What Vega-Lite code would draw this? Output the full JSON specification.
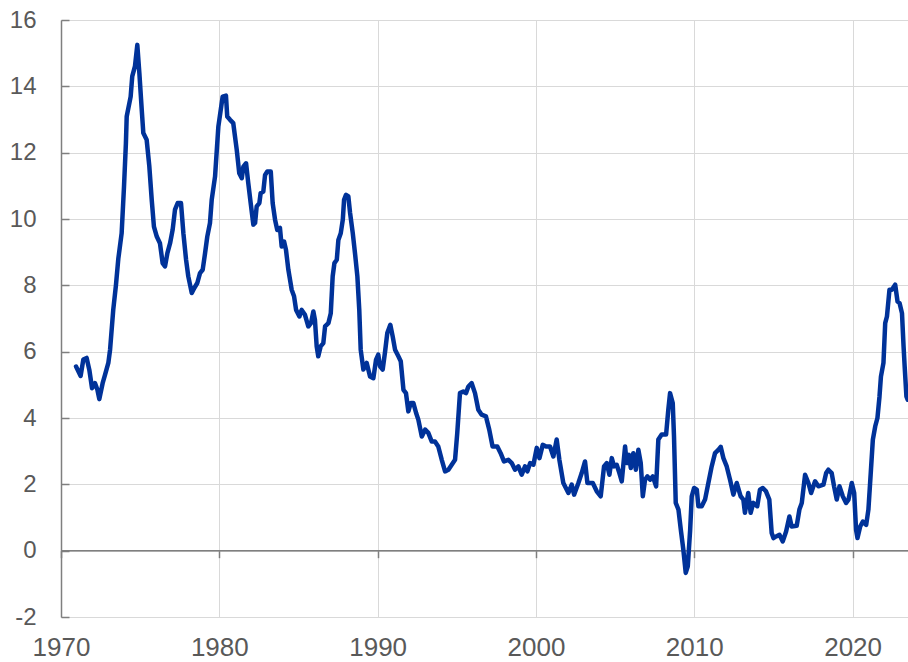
{
  "$schema": "https://vega.github.io/schema/vega-lite/v6.json",
  "width": 847,
  "height": 597,
  "autosize": "none",
  "padding": {"left": 61, "top": 20, "right": 0, "bottom": 45},
  "config": {"view": {"stroke": null}, "font": "Liberation Sans"},
  "layer": [
    {
      "data": {"values": [{"year": 1970, "value": 0}, {"year": 2023.5, "value": 0}]},
      "mark": {"type": "line", "color": "#7f7f7f", "strokeWidth": 1.5},
      "encoding": {
        "x": {"field": "year", "type": "quantitative",
          "axis": {"orient": "bottom", "offset": -66.33, "values": [1970, 1980, 1990, 2000, 2010, 2020], "labels": false, "domain": false, "ticks": true, "tickSize": 7, "tickColor": "#7f7f7f", "tickWidth": 1.5, "grid": false, "title": null}},
        "y": {"field": "value", "type": "quantitative"}
      }
    },
    {
      "data": {"values": [
        {"year": 1970.95, "value": 5.55}, {"year": 1971.24, "value": 5.27}, {"year": 1971.41, "value": 5.76}, {"year": 1971.62, "value": 5.81}, {"year": 1971.79, "value": 5.45}, {"year": 1971.96, "value": 4.9}, {"year": 1972.15, "value": 5.05}, {"year": 1972.3, "value": 4.85}, {"year": 1972.42, "value": 4.57}, {"year": 1972.63, "value": 5.05}, {"year": 1972.78, "value": 5.3}, {"year": 1972.99, "value": 5.66}, {"year": 1973.1, "value": 6.06}, {"year": 1973.3, "value": 7.26}, {"year": 1973.47, "value": 8.0}, {"year": 1973.62, "value": 8.8}, {"year": 1973.83, "value": 9.57}, {"year": 1973.98, "value": 10.98}, {"year": 1974.1, "value": 12.29}, {"year": 1974.15, "value": 13.09}, {"year": 1974.4, "value": 13.69}, {"year": 1974.5, "value": 14.3}, {"year": 1974.67, "value": 14.6}, {"year": 1974.82, "value": 15.25}, {"year": 1974.95, "value": 14.4},
        {"year": 1975.1, "value": 13.29}, {"year": 1975.2, "value": 12.59}, {"year": 1975.41, "value": 12.39}, {"year": 1975.58, "value": 11.58}, {"year": 1975.73, "value": 10.58}, {"year": 1975.87, "value": 9.77}, {"year": 1976.05, "value": 9.47}, {"year": 1976.25, "value": 9.27}, {"year": 1976.42, "value": 8.67}, {"year": 1976.57, "value": 8.57}, {"year": 1976.72, "value": 8.97}, {"year": 1976.89, "value": 9.27}, {"year": 1977.05, "value": 9.67}, {"year": 1977.2, "value": 10.28}, {"year": 1977.37, "value": 10.48}, {"year": 1977.58, "value": 10.48}, {"year": 1977.73, "value": 9.57}, {"year": 1977.9, "value": 8.77}, {"year": 1978.04, "value": 8.27}, {"year": 1978.26, "value": 7.77}, {"year": 1978.42, "value": 7.92}, {"year": 1978.61, "value": 8.07}, {"year": 1978.78, "value": 8.37}, {"year": 1978.95, "value": 8.47}, {"year": 1979.1, "value": 8.97}, {"year": 1979.24, "value": 9.47}, {"year": 1979.41, "value": 9.88}, {"year": 1979.52, "value": 10.58}, {"year": 1979.73, "value": 11.28}, {"year": 1979.94, "value": 12.79},
        {"year": 1980.21, "value": 13.69}, {"year": 1980.42, "value": 13.72}, {"year": 1980.5, "value": 13.09}, {"year": 1980.68, "value": 12.99}, {"year": 1980.88, "value": 12.89}, {"year": 1981.1, "value": 12.09}, {"year": 1981.26, "value": 11.38}, {"year": 1981.42, "value": 11.23}, {"year": 1981.52, "value": 11.58}, {"year": 1981.69, "value": 11.68}, {"year": 1981.83, "value": 11.08}, {"year": 1981.98, "value": 10.48}, {"year": 1982.15, "value": 9.83}, {"year": 1982.26, "value": 9.88}, {"year": 1982.36, "value": 10.38}, {"year": 1982.53, "value": 10.48}, {"year": 1982.61, "value": 10.78}, {"year": 1982.78, "value": 10.83}, {"year": 1982.89, "value": 11.33}, {"year": 1983.03, "value": 11.43}, {"year": 1983.25, "value": 11.43}, {"year": 1983.37, "value": 10.48}, {"year": 1983.52, "value": 9.98}, {"year": 1983.66, "value": 9.67}, {"year": 1983.83, "value": 9.73}, {"year": 1983.94, "value": 9.17}, {"year": 1984.09, "value": 9.32}, {"year": 1984.21, "value": 9.07}, {"year": 1984.36, "value": 8.47}, {"year": 1984.57, "value": 7.87}, {"year": 1984.72, "value": 7.67}, {"year": 1984.85, "value": 7.26},
        {"year": 1985.06, "value": 7.06}, {"year": 1985.2, "value": 7.26}, {"year": 1985.41, "value": 7.11}, {"year": 1985.62, "value": 6.76}, {"year": 1985.79, "value": 6.86}, {"year": 1985.94, "value": 7.21}, {"year": 1986.04, "value": 6.96}, {"year": 1986.15, "value": 6.16}, {"year": 1986.25, "value": 5.86}, {"year": 1986.4, "value": 6.16}, {"year": 1986.57, "value": 6.26}, {"year": 1986.68, "value": 6.76}, {"year": 1986.89, "value": 6.86}, {"year": 1987.04, "value": 7.16}, {"year": 1987.16, "value": 8.27}, {"year": 1987.27, "value": 8.67}, {"year": 1987.42, "value": 8.77}, {"year": 1987.52, "value": 9.37}, {"year": 1987.67, "value": 9.57}, {"year": 1987.8, "value": 9.98}, {"year": 1987.88, "value": 10.58}, {"year": 1988.0, "value": 10.73}, {"year": 1988.15, "value": 10.68}, {"year": 1988.26, "value": 10.18}, {"year": 1988.43, "value": 9.57}, {"year": 1988.57, "value": 8.97}, {"year": 1988.72, "value": 8.27}, {"year": 1988.84, "value": 7.26}, {"year": 1988.93, "value": 6.06}, {"year": 1989.1, "value": 5.46}, {"year": 1989.31, "value": 5.66}, {"year": 1989.52, "value": 5.25}, {"year": 1989.73, "value": 5.2}, {"year": 1989.9, "value": 5.76},
        {"year": 1990.04, "value": 5.91}, {"year": 1990.15, "value": 5.56}, {"year": 1990.32, "value": 5.46}, {"year": 1990.47, "value": 6.0}, {"year": 1990.61, "value": 6.56}, {"year": 1990.8, "value": 6.81}, {"year": 1990.95, "value": 6.46}, {"year": 1991.1, "value": 6.06}, {"year": 1991.31, "value": 5.86}, {"year": 1991.46, "value": 5.71}, {"year": 1991.63, "value": 4.85}, {"year": 1991.79, "value": 4.75}, {"year": 1991.94, "value": 4.2}, {"year": 1992.09, "value": 4.45}, {"year": 1992.26, "value": 4.45}, {"year": 1992.43, "value": 4.15}, {"year": 1992.57, "value": 3.95}, {"year": 1992.79, "value": 3.44}, {"year": 1993.0, "value": 3.65}, {"year": 1993.2, "value": 3.55}, {"year": 1993.42, "value": 3.29}, {"year": 1993.62, "value": 3.29}, {"year": 1993.83, "value": 3.14}, {"year": 1994.05, "value": 2.74}, {"year": 1994.26, "value": 2.39}, {"year": 1994.47, "value": 2.44}, {"year": 1994.68, "value": 2.59}, {"year": 1994.89, "value": 2.74},
        {"year": 1995.03, "value": 3.55}, {"year": 1995.2, "value": 4.75}, {"year": 1995.41, "value": 4.8}, {"year": 1995.58, "value": 4.75}, {"year": 1995.73, "value": 4.95}, {"year": 1995.94, "value": 5.05}, {"year": 1996.15, "value": 4.75}, {"year": 1996.36, "value": 4.25}, {"year": 1996.57, "value": 4.1}, {"year": 1996.84, "value": 4.05}, {"year": 1997.05, "value": 3.65}, {"year": 1997.26, "value": 3.14}, {"year": 1997.56, "value": 3.14}, {"year": 1997.77, "value": 2.94}, {"year": 1997.98, "value": 2.69}, {"year": 1998.26, "value": 2.74}, {"year": 1998.47, "value": 2.64}, {"year": 1998.68, "value": 2.44}, {"year": 1998.89, "value": 2.54}, {"year": 1999.1, "value": 2.29}, {"year": 1999.31, "value": 2.54}, {"year": 1999.46, "value": 2.39}, {"year": 1999.63, "value": 2.64}, {"year": 1999.84, "value": 2.59},
        {"year": 2000.05, "value": 3.1}, {"year": 2000.22, "value": 2.79}, {"year": 2000.43, "value": 3.19}, {"year": 2000.64, "value": 3.14}, {"year": 2000.89, "value": 3.14}, {"year": 2001.1, "value": 2.84}, {"year": 2001.31, "value": 3.35}, {"year": 2001.48, "value": 2.74}, {"year": 2001.73, "value": 2.04}, {"year": 2002.05, "value": 1.74}, {"year": 2002.26, "value": 1.99}, {"year": 2002.41, "value": 1.69}, {"year": 2002.68, "value": 2.04}, {"year": 2002.89, "value": 2.34}, {"year": 2003.1, "value": 2.69}, {"year": 2003.25, "value": 2.04}, {"year": 2003.59, "value": 2.04}, {"year": 2003.84, "value": 1.79}, {"year": 2004.09, "value": 1.64}, {"year": 2004.3, "value": 2.54}, {"year": 2004.47, "value": 2.64}, {"year": 2004.64, "value": 2.29}, {"year": 2004.79, "value": 2.79}, {"year": 2004.93, "value": 2.54},
        {"year": 2005.1, "value": 2.59}, {"year": 2005.27, "value": 2.34}, {"year": 2005.42, "value": 2.09}, {"year": 2005.63, "value": 3.14}, {"year": 2005.73, "value": 2.64}, {"year": 2005.88, "value": 2.89}, {"year": 2005.99, "value": 2.49}, {"year": 2006.15, "value": 2.94}, {"year": 2006.31, "value": 2.44}, {"year": 2006.47, "value": 3.04}, {"year": 2006.62, "value": 2.64}, {"year": 2006.75, "value": 1.64}, {"year": 2006.89, "value": 2.14}, {"year": 2007.04, "value": 2.24}, {"year": 2007.21, "value": 2.14}, {"year": 2007.38, "value": 2.24}, {"year": 2007.59, "value": 1.94}, {"year": 2007.73, "value": 3.35}, {"year": 2007.94, "value": 3.5}, {"year": 2008.22, "value": 3.5}, {"year": 2008.36, "value": 4.25}, {"year": 2008.47, "value": 4.75}, {"year": 2008.64, "value": 4.45}, {"year": 2008.72, "value": 3.44}, {"year": 2008.83, "value": 1.44}, {"year": 2009.0, "value": 1.24}, {"year": 2009.15, "value": 0.63}, {"year": 2009.31, "value": 0.03}, {"year": 2009.46, "value": -0.67}, {"year": 2009.59, "value": -0.47}, {"year": 2009.74, "value": 0.63}, {"year": 2009.84, "value": 1.64}, {"year": 2009.99, "value": 1.89},
        {"year": 2010.16, "value": 1.84}, {"year": 2010.26, "value": 1.34}, {"year": 2010.47, "value": 1.34}, {"year": 2010.68, "value": 1.54}, {"year": 2010.89, "value": 2.04}, {"year": 2011.1, "value": 2.54}, {"year": 2011.31, "value": 2.94}, {"year": 2011.52, "value": 3.04}, {"year": 2011.67, "value": 3.13}, {"year": 2011.84, "value": 2.79}, {"year": 2012.05, "value": 2.54}, {"year": 2012.26, "value": 2.14}, {"year": 2012.47, "value": 1.69}, {"year": 2012.68, "value": 2.04}, {"year": 2012.93, "value": 1.64}, {"year": 2013.1, "value": 1.54}, {"year": 2013.2, "value": 1.14}, {"year": 2013.41, "value": 1.74}, {"year": 2013.56, "value": 1.14}, {"year": 2013.73, "value": 1.44}, {"year": 2013.98, "value": 1.34}, {"year": 2014.15, "value": 1.84}, {"year": 2014.33, "value": 1.89}, {"year": 2014.53, "value": 1.79}, {"year": 2014.74, "value": 1.54}, {"year": 2014.89, "value": 0.53},
        {"year": 2015.0, "value": 0.38}, {"year": 2015.17, "value": 0.43}, {"year": 2015.38, "value": 0.48}, {"year": 2015.59, "value": 0.28}, {"year": 2015.8, "value": 0.58}, {"year": 2016.01, "value": 1.03}, {"year": 2016.15, "value": 0.73}, {"year": 2016.47, "value": 0.75}, {"year": 2016.64, "value": 1.24}, {"year": 2016.79, "value": 1.44}, {"year": 2017.0, "value": 2.29}, {"year": 2017.21, "value": 2.04}, {"year": 2017.38, "value": 1.74}, {"year": 2017.63, "value": 2.09}, {"year": 2017.84, "value": 1.94}, {"year": 2018.16, "value": 1.99}, {"year": 2018.33, "value": 2.34}, {"year": 2018.47, "value": 2.44}, {"year": 2018.68, "value": 2.34}, {"year": 2018.83, "value": 1.94}, {"year": 2019.0, "value": 1.54}, {"year": 2019.17, "value": 1.94}, {"year": 2019.38, "value": 1.64}, {"year": 2019.59, "value": 1.44}, {"year": 2019.74, "value": 1.54}, {"year": 2019.95, "value": 2.04},
        {"year": 2020.1, "value": 1.74}, {"year": 2020.22, "value": 0.63}, {"year": 2020.31, "value": 0.38}, {"year": 2020.48, "value": 0.73}, {"year": 2020.65, "value": 0.88}, {"year": 2020.86, "value": 0.78}, {"year": 2021.0, "value": 1.24}, {"year": 2021.16, "value": 2.44}, {"year": 2021.28, "value": 3.35}, {"year": 2021.43, "value": 3.75}, {"year": 2021.57, "value": 4.0}, {"year": 2021.7, "value": 4.65}, {"year": 2021.79, "value": 5.25}, {"year": 2021.95, "value": 5.66}, {"year": 2022.06, "value": 6.86}, {"year": 2022.17, "value": 7.06}, {"year": 2022.33, "value": 7.87}, {"year": 2022.48, "value": 7.87}, {"year": 2022.69, "value": 8.02}, {"year": 2022.84, "value": 7.51}, {"year": 2022.97, "value": 7.46}, {"year": 2023.12, "value": 7.16}, {"year": 2023.22, "value": 6.16}, {"year": 2023.29, "value": 5.55}, {"year": 2023.4, "value": 4.65}, {"year": 2023.48, "value": 4.55}
      ]},
      "mark": {"type": "line", "color": "#003299", "strokeWidth": 4.5, "strokeJoin": "round", "strokeCap": "round"},
      "encoding": {
        "x": {"field": "year", "type": "quantitative",
          "scale": {"domain": [1970, 2023.5], "nice": false, "zero": false},
          "axis": {"orient": "bottom", "values": [1970, 1980, 1990, 2000, 2010, 2020], "format": "d", "title": null, "domain": false, "ticks": false, "grid": true, "gridColor": "#d9d9d9", "gridWidth": 1, "labelFontSize": 26, "labelColor": "#595959", "labelPadding": 17, "labelFlush": false}},
        "y": {"field": "value", "type": "quantitative",
          "scale": {"domain": [-2, 16], "nice": false, "zero": false},
          "axis": {"values": [-2, 0, 2, 4, 6, 8, 10, 12, 14, 16], "labelExpr": "'' + datum.value", "title": null, "domain": true, "domainColor": "#7f7f7f", "domainWidth": 1.5, "ticks": true, "tickSize": -8, "tickColor": "#7f7f7f", "tickWidth": 1.5, "grid": true, "gridColor": "#d9d9d9", "gridWidth": 1, "labelFontSize": 24, "labelColor": "#595959", "labelPadding": 33, "labelFlush": false}}
      }
    }
  ],
  "resolve": {"axis": {"x": "independent"}}
}
